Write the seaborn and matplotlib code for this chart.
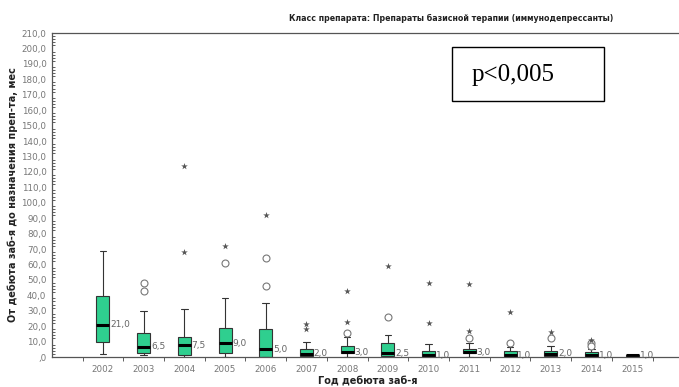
import matplotlib
matplotlib.use("Agg")
import matplotlib.pyplot as plt
from matplotlib.ticker import MultipleLocator, FixedLocator, FuncFormatter
from matplotlib.patches import Rectangle
import seaborn as sns
import pandas as pd

# ---- data ----
years = ["2002", "2003", "2004", "2005", "2006", "2007", "2008",
         "2009", "2010", "2011", "2012", "2013", "2014", "2015"]
whisk_lo = [2, 1, 0, 0, 0, 0, 0, 0, 0, 0, 0, 0, 0, 0]
q1 = [10, 2.4, 1, 2.8, 0, 0.8, 2.6, 0.5, 0, 2.3, 0, 0.5, 0, 0.6]
median = [21, 6.5, 7.5, 9, 5, 2, 3.2, 2.5, 1, 3, 1, 2, 1, 1]
q3 = [39.5, 15.8, 13, 18.8, 18, 5, 7.2, 9.3, 4, 5.2, 3.7, 4, 3, 1]
whisk_hi = [69, 30, 31, 38, 35, 10, 12.7, 14.3, 8.4, 9, 6.3, 7, 5, 1]
median_labels = ["21,0", "6,5", "7,5", "9,0", "5,0", "2,0", "3,0",
                 "2,5", "1,0", "3,0", "1,0", "2,0", "1,0", "1,0"]

# outliers (circles: 1.5-3 IQR, stars: extreme)
circle_years = ["2003", "2003", "2005", "2006", "2006", "2008", "2009",
                "2011", "2012", "2013", "2014", "2014"]
circle_vals = [48, 43, 61, 46, 64, 15.3, 26, 12.5, 9.3, 12.5, 8.9, 7.3]
star_years = ["2004", "2004", "2005", "2006", "2007", "2007", "2008", "2008",
              "2009", "2010", "2010", "2011", "2011", "2012", "2013", "2014"]
star_vals = [68, 124, 72, 92, 21.4, 18, 22.9, 43, 59, 21.8, 48, 16.8, 47,
             29, 16.4, 11]

title = "Класс препарата: Препараты базисной терапии (иммунодепрессанты)"
xlabel = "Год дебюта заб-я"
ylabel = "От дебюта заб-я до назначения преп-та, мес"
ptext = "p<0,005"

# ---- build long-form table: five-number data per group ----
rows = []
for i, y in enumerate(years):
    for v in (whisk_lo[i], q1[i], median[i], q3[i], whisk_hi[i]):
        rows.append({"year": y, "value": v})
df = pd.DataFrame(rows)
df_c = pd.DataFrame({"year": circle_years, "value": circle_vals})
df_s = pd.DataFrame({"year": star_years, "value": star_vals})

sns.set_theme(style="white")
plt.rcParams["font.family"] = ["DejaVu Sans"]

W, H = 679, 387
fig = plt.figure(figsize=(W / 100, H / 100), dpi=100)
ax = fig.add_axes([52 / W, (H - 357) / H, 1 - 52 / W, (357 - 33) / H])

sns.boxplot(data=df, x="year", y="value", order=years, whis=(0, 100),
            width=0.32, color="#2fcf8f", saturation=1, linecolor="#333333",
            linewidth=0.8, fliersize=0,
            medianprops=dict(color="black", linewidth=2.2),
            ax=ax)
sns.stripplot(data=df_c, x="year", y="value", order=years, jitter=False,
              marker="o", color="white", edgecolor="#777777", linewidth=0.8,
              size=5, ax=ax)
sns.stripplot(data=df_s, x="year", y="value", order=years, jitter=False,
              marker="*", color="#555555", size=5, ax=ax)

for i, lab in enumerate(median_labels):
    ax.text(i + 0.18, median[i], lab, fontsize=6.5, color="#666666",
            va="center", ha="left")

ax.set_xlim(-1.25, 14.15)
ax.set_ylim(0, 210)
ax.yaxis.set_major_locator(MultipleLocator(10))
ax.yaxis.set_minor_locator(MultipleLocator(2))
ax.yaxis.set_major_formatter(FuncFormatter(
    lambda v, p: ",0" if v == 0 else f"{v:.1f}".replace(".", ",")))
ax.xaxis.set_minor_locator(FixedLocator([i + 0.5 for i in range(-1, len(years))]))

ax.tick_params(axis="y", which="major", direction="out", length=3, width=0.8,
               labelsize=6.3, labelcolor="#777777", color="#444444", pad=1)
ax.tick_params(axis="y", which="minor", direction="in", length=2, width=0.6,
               color="#444444", left=True)
ax.tick_params(axis="x", which="major", direction="out", length=3, width=0.8,
               labelsize=6.3, labelcolor="#777777", color="#444444", pad=3)
ax.tick_params(axis="x", which="minor", direction="out", length=3, width=0.6,
               color="#444444", bottom=True)

for s in ("left", "bottom", "top"):
    ax.spines[s].set_color("#555555")
    ax.spines[s].set_linewidth(0.9)
ax.spines["right"].set_visible(False)

ax.set_xlabel("")
ax.set_ylabel("")
fig.text(368 / W, 1 - 381 / H, xlabel, fontsize=7, fontweight="bold",
         ha="center", va="center", color="#222222")
fig.text(13 / W, 1 - 195 / H, ylabel, fontsize=7, fontweight="bold",
         rotation=90, ha="center", va="center", color="#222222")
fig.text(451 / W, 1 - 18 / H, title, fontsize=5.7, fontweight="bold",
         ha="center", va="center", color="#222222")

# p-value box
fig.patches.append(Rectangle((452 / W, 1 - 101 / H), (604 - 452) / W,
                             (101 - 47) / H, transform=fig.transFigure,
                             fill=False, edgecolor="black", linewidth=1.0))
fig.text(472 / W, 1 - 75 / H, ptext, fontsize=18, family="Liberation Serif",
         ha="left", va="center", color="black")

fig.savefig("out.png", dpi=100)
